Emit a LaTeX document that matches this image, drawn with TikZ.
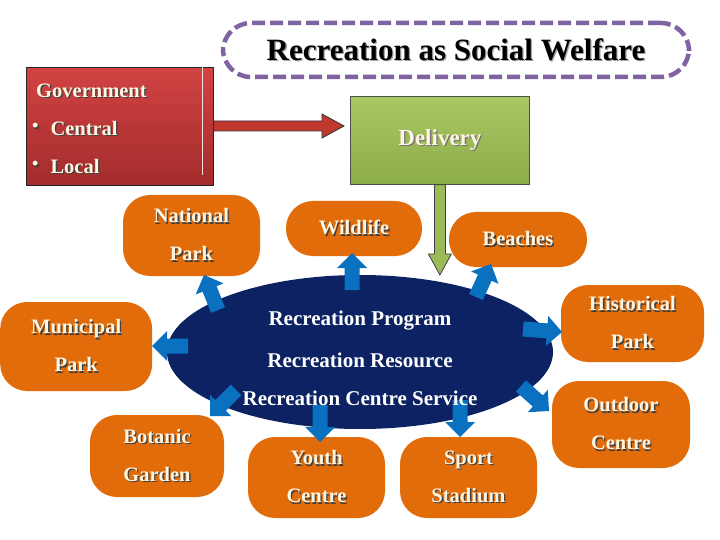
\documentclass[tikz,border=0pt]{standalone}
\usepackage{fontspec}
\setmainfont{Liberation Serif}
\usetikzlibrary{calc,shapes.geometric}
\definecolor{orng}{HTML}{E36C0A}
\definecolor{navy}{HTML}{0C2262}
\definecolor{blu}{HTML}{0A70C0}
\definecolor{grn}{HTML}{9BBB59}
\definecolor{grntop}{HTML}{A9C864}
\definecolor{grnbot}{HTML}{8DAD4A}
\definecolor{rdtop}{HTML}{D24343}
\definecolor{rdbot}{HTML}{A32B2B}
\definecolor{rd}{HTML}{C0392E}
\definecolor{purp}{HTML}{8064A2}
\definecolor{cream}{HTML}{FFF6E2}
\newcommand\sh[2][black!75]{\leavevmode\rlap{\hspace{1.3pt}\raisebox{-1.3pt}{\textcolor{#1}{#2}}}#2}
\newcommand\bul{\raisebox{3.5pt}{\fontsize{18pt}{18pt}\selectfont•}\hspace{12pt}}
% block arrow: style, from, to, half shaft, half head, head length
\newcommand\blk[6]{%
  \filldraw[#1] let \p1=(#2), \p2=(#3), \n1={atan2(\y2-\y1,\x2-\x1)} in
    ($(\p1)+({\n1+90}:#4)$) --
    ($(\p2)+({\n1+180}:#6)+({\n1+90}:#4)$) --
    ($(\p2)+({\n1+180}:#6)+({\n1+90}:#5)$) --
    (\p2) --
    ($(\p2)+({\n1+180}:#6)+({\n1-90}:#5)$) --
    ($(\p2)+({\n1+180}:#6)+({\n1-90}:#4)$) --
    ($(\p1)+({\n1-90}:#4)$) -- cycle;}
\tikzset{
  obox/.style={fill=orng, rounded corners=27pt, inner sep=0pt, text=cream,
    font=\bfseries\fontsize{20.5pt}{38pt}\selectfont, align=center},
  elltxt/.style={text=white, font=\bfseries\fontsize{21pt}{24pt}\selectfont},
  govtxt/.style={text=cream, font=\bfseries\fontsize{20.5pt}{22pt}\selectfont, anchor=west, inner sep=0pt},
  bluearrow/.style={fill=blu, draw=none},
}
\begin{document}
\begin{tikzpicture}[x=1pt,y=-1pt]
\useasboundingbox[fill=white] (0,0) rectangle (720,540);
% title
\node[draw=purp, line width=4.5pt, dash pattern=on 13pt off 5pt, rounded corners=28pt,
  minimum width=466pt, minimum height=54pt, inner sep=0pt,
  font=\bfseries\fontsize{31pt}{34pt}\selectfont] (title) at (456,50) {\sh[black!35]{Recreation as Social Welfare}};
% government
\node[draw=black!85, line width=0.8pt, top color=rdtop, bottom color=rdbot,
  minimum width=187pt, minimum height=118pt, inner sep=0pt, anchor=north west] (gov) at (26,67) {};
\draw[white!85!rd, line width=0.8pt] ($(gov.north west)+(176,0)$) coordinate (gl1) -- ($(gov.north west)+(176,108)$) coordinate (gl2);
\node[govtxt] (govt) at (36,91) {\sh{Government}};
\node[govtxt] (cent) at (32,129) {\sh{\bul Central}};
\node[govtxt] (locl) at (32,167) {\sh{\bul Local}};
% delivery
\node[draw=black!70, line width=0.8pt, top color=grntop, bottom color=grnbot,
  minimum width=179pt, minimum height=88pt, inner sep=0pt, anchor=north west,
  text=cream, font=\bfseries\fontsize{23pt}{25pt}\selectfont] (del) at (350,96) {\sh[black!55]{Delivery}};
% red arrow
\coordinate (ra1) at (gov.east|-0,126);
\coordinate (ra2) at (344,126);
\blk{fill=rd, draw=black!80, line width=0.8pt}{ra1}{ra2}{5pt}{12pt}{22pt}
% orange boxes
\node[obox, minimum width=137pt, minimum height=81pt] (natp) at (191.5,235.5) {\sh{National}\\\sh{Park}};
\node[obox, minimum width=136pt, minimum height=55pt] (wild) at (354,228.5) {\sh{Wildlife}};
\node[obox, minimum width=138pt, minimum height=55pt] (beach) at (518,239.5) {\sh{Beaches}};
\node[obox, minimum width=143pt, minimum height=77pt] (hist) at (632.5,323.5) {\sh{Historical}\\\sh{Park}};
\node[obox, minimum width=152pt, minimum height=89pt, anchor=west] (muni) at (0,346.5) {\sh{Municipal}\\\sh{Park}};
\node[obox, minimum width=134pt, minimum height=82pt] (bot) at (157,456) {\sh{Botanic}\\\sh{Garden}};
\node[obox, minimum width=137pt, minimum height=81pt] (youth) at (316.5,477.5) {\sh{Youth}\\\sh{Centre}};
\node[obox, minimum width=137pt, minimum height=81pt] (sport) at (468.5,477.5) {\sh{Sport}\\\sh{Stadium}};
\node[obox, minimum width=138pt, minimum height=87pt] (outd) at (621,424.5) {\sh{Outdoor}\\\sh{Centre}};
% ellipse
\node[ellipse, fill=navy, minimum width=386pt, minimum height=154pt, inner sep=0pt] (ell) at (360,352) {};
% green arrow
\coordinate (ga1) at (del.south);
\coordinate (ga2) at (del.south|-0,275);
\blk{fill=grn, draw=black!75, line width=0.8pt}{ga1}{ga2}{5.5pt}{11.5pt}{21pt}
% blue arrows
\coordinate (b1s) at (218,310); \coordinate (b1e) at (204,275);
\coordinate (b2s) at (352,290); \coordinate (b2e) at (352,253);
\coordinate (b3s) at (476,297); \coordinate (b3e) at (491,264);
\coordinate (b4s) at (523,329); \coordinate (b4e) at (562,332);
\coordinate (b5s) at (188,346); \coordinate (b5e) at (152,346);
\coordinate (b6s) at (236,390); \coordinate (b6e) at (210,416);
\coordinate (b7s) at (320,405); \coordinate (b7e) at (320,442);
\coordinate (b8s) at (460,400); \coordinate (b8e) at (460,437);
\coordinate (b9s) at (521,386); \coordinate (b9e) at (549,411);
\foreach \i in {1,...,9}{\blk{bluearrow}{b\i s}{b\i e}{7.5pt}{15pt}{15pt}}
% ellipse texts
\node[elltxt] (rp) at (360,321) {Recreation Program};
\node[elltxt] (rr) at (360,360) {Recreation Resource};
\node[elltxt] (rc) at (360,398) {Recreation Centre Service};
\end{tikzpicture}
\end{document}
